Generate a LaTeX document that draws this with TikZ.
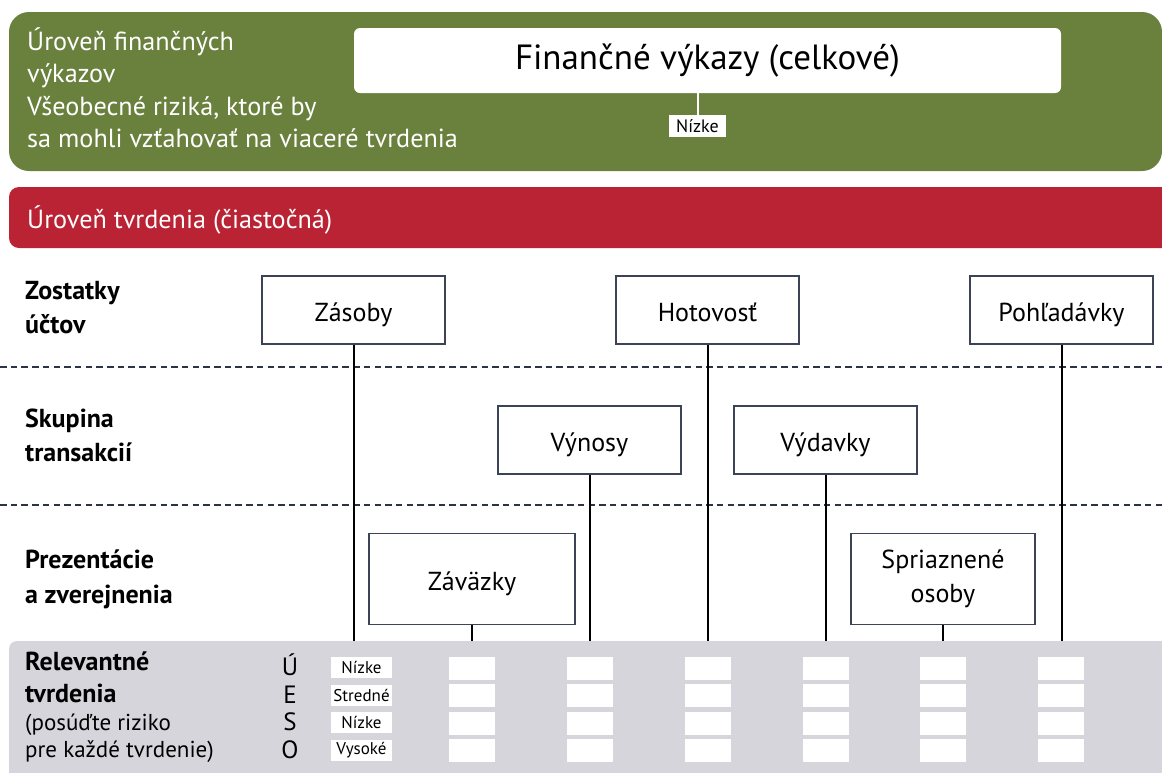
\documentclass[tikz,border=0pt]{standalone}
\usepackage{fontspec}
\setmainfont{PT Sans}
\definecolor{levelgreen}{HTML}{6A803D}
\definecolor{levelred}{HTML}{BA2334}
\definecolor{panelgray}{HTML}{D6D5DC}
\definecolor{boxline}{HTML}{3D4356}
\definecolor{divline}{HTML}{2C3347}
\newcommand{\fsz}[1]{\fontsize{#1}{#1}\selectfont}
\begin{document}
\begin{tikzpicture}[x=1pt,y=-1pt,
  bandtext/.style={anchor=base west, inner sep=0pt, text=white, font=\fsz{26.2}},
  rowlabel/.style={anchor=base west, inner sep=0pt, font=\bfseries\fsz{26}},
  notetext/.style={anchor=base west, inner sep=0pt, font=\fsz{23}},
  acct/.style={draw=boxline, line width=1.2pt, fill=white, inner sep=0pt, align=center,
    font=\fontsize{26}{34}\selectfont, minimum width=183pt, minimum height=68pt,
    text height=24pt, text depth=2pt},
  link/.style={line width=2pt, black},
  divider/.style={draw=divline, line width=2.5pt, dash pattern=on 6.5pt off 4.2pt},
  riskcell/.style={fill=white, inner sep=0pt, minimum width=46pt, minimum height=23pt},
  risktag/.style={fill=white, inner sep=0pt, minimum width=61pt, minimum height=21pt, font=\fsz{17}},
  assertion/.style={anchor=base, inner sep=0pt, font=\fsz{25}},
]
\useasboundingbox (0,0) rectangle (1162,772);
\clip (0,0) rectangle (1162,772);

% financial statement level band
\fill[levelgreen, rounded corners=20pt] (9,12) rectangle (1162,171);
\node[bandtext] (g1) at (27,50) {Úroveň finančných};
\node[bandtext] (g2) at (27,82) {výkazov};
\node[bandtext] (g3) at (27,115) {Všeobecné riziká, ktoré by};
\node[bandtext] (g4) at (27,147) {sa mohli vzťahovať na viaceré tvrdenia};
\node[fill=white, rounded corners=6pt, minimum width=707pt, minimum height=65pt,
  inner sep=0pt, font=\fsz{35}] (fs) at (707.5,60.5) {Finančné výkazy (celkové)};
\node[fill=white, inner sep=0pt, minimum width=57pt, minimum height=22pt,
  font=\fsz{18}] (fsrisk) at (697.5,126) {Nízke};
\draw[white, line width=2pt] (fsrisk.north) -- (fsrisk.north |- fs.south);

% assertion level band
\fill[levelred, rounded corners=10pt] (9,187) rectangle (1190,248);
\node[bandtext] (r1) at (27,228) {Úroveň tvrdenia (čiastočná)};

% row separators
\draw[divider] (0,367) -- (1162,367);
\draw[divider] (0,505) -- (1162,505);

% row headings
\node[rowlabel] (z1) at (25,299) {Zostatky};
\node[rowlabel] (z2) at (25,333) {účtov};
\node[rowlabel] (s1) at (25,427) {Skupina};
\node[rowlabel] (s2) at (25,461) {transakcií};
\node[rowlabel] (p1) at (25,568) {Prezentácie};
\node[rowlabel] (p2) at (25,603) {a zverejnenia};

% assessment panel
\fill[panelgray, rounded corners=8pt] (9,641) rectangle (1190,800);

% account, transaction and disclosure boxes
\node[acct] (zasoby) at (353.5,310) {Zásoby};
\node[acct] (hotovost) at (707.5,310) {Hotovosť};
\node[acct] (pohladavky) at (1061.5,310) {Pohľadávky};
\node[acct] (vynosy) at (589.5,440) {Výnosy};
\node[acct] (vydavky) at (825.5,440) {Výdavky};
\node[acct, minimum width=206pt, minimum height=91pt] (zavazky) at (472,579) {Záväzky};
\node[acct, minimum width=184pt, minimum height=91pt, text height={}, text depth={}]
  (spriaznene) at (943,579) {Spriaznené\\osoby};

% connector ends on the panel edge
\coordinate (e1) at (353.5,641);
\coordinate (e2) at (472,641);
\coordinate (e3) at (589.5,641);
\coordinate (e4) at (707.5,641);
\coordinate (e5) at (825.5,641);
\coordinate (e6) at (943,641);
\coordinate (e7) at (1061.5,641);
\draw[link] (zasoby.south) -- (e1);
\draw[link] (zavazky.south) -- (e2);
\draw[link] (vynosy.south) -- (e3);
\draw[link] (hotovost.south) -- (e4);
\draw[link] (vydavky.south) -- (e5);
\draw[link] (spriaznene.south) -- (e6);
\draw[link] (pohladavky.south) -- (e7);

% panel texts
\node[rowlabel] (rel1) at (25,670) {Relevantné};
\node[rowlabel] (rel2) at (25,702) {tvrdenia};
\node[notetext] (n1) at (25,730) {(posúďte riziko};
\node[notetext] (n2) at (25,757) {pre každé tvrdenie)};

\node[assertion] (aU) at (290,675) {Ú};
\node[assertion] (aE) at (290,703) {E};
\node[assertion] (aS) at (290,730.5) {S};
\node[assertion] (aO) at (290,758) {O};

\node[risktag] (t1) at (361.5,667.5) {Nízke};
\node[risktag] (t2) at (361.5,695) {Stredné};
\node[risktag] (t3) at (361.5,722.5) {Nízke};
\node[risktag] (t4) at (361.5,750) {Vysoké};

\foreach \cx [count=\c] in {472,590,708,826,943,1061}{
  \foreach \cy [count=\r] in {668.5,695.5,723.5,750.5}{
    \node[riskcell] (cell-\c-\r) at (\cx,\cy) {};
  }
}
\end{tikzpicture}
\end{document}
